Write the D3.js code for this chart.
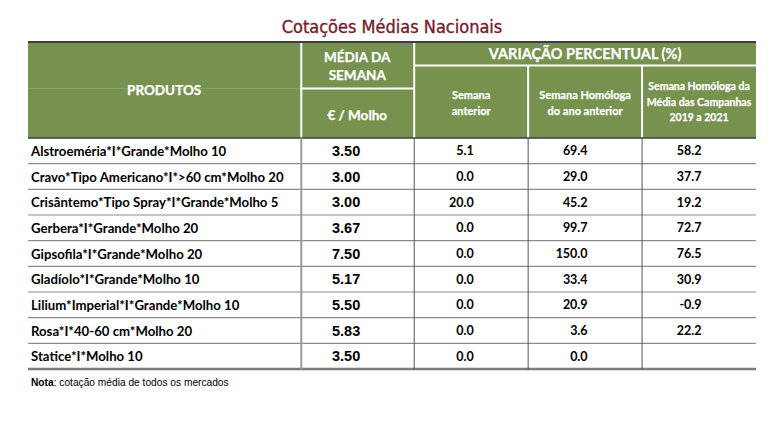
<!DOCTYPE html>
<html><head><meta charset="utf-8">
<script src="https://cdn.jsdelivr.net/npm/d3@7"></script>
<style>
html,body{margin:0;padding:0;background:#fff;}
svg{display:block;}
</style></head>
<body>
<svg id="chart" width="782" height="430"></svg>
<script>
const title = "Cotações Médias Nacionais";
const products = [
  "Alstroeméria*I*Grande*Molho 10",
  "Cravo*Tipo Americano*I*>60 cm*Molho 20",
  "Crisântemo*Tipo Spray*I*Grande*Molho 5",
  "Gerbera*I*Grande*Molho 20",
  "Gipsofila*I*Grande*Molho 20",
  "Gladíolo*I*Grande*Molho 10",
  "Lilium*Imperial*I*Grande*Molho 10",
  "Rosa*I*40-60 cm*Molho 20",
  "Statice*I*Molho 10"
];
const mediaSemana = ["3.50","3.00","3.00","3.67","7.50","5.17","5.50","5.83","3.50"];
const semanaAnterior = ["5.1","0.0","20.0","0.0","0.0","0.0","0.0","0.0","0.0"];
const homologaAnoAnterior = ["69.4","29.0","45.2","99.7","150.0","33.4","20.9","3.6","0.0"];
const homologaCampanhas = ["58.2","37.7","19.2","72.7","76.5","30.9","-0.9","22.2",""];
const columnKeys = ["produto","media","anterior","homologa","campanhas"];
const columnUnits = [2.39, 1, 1, 1, 1];
const headerProdutos = "PRODUTOS";
const headerMedia = ["MÉDIA DA","SEMANA"];
const headerUnit = "€ / Molho";
const headerVariacao = "VARIAÇÃO PERCENTUAL (%)";
const subHeaders = [["Semana","anterior"],["Semana Homóloga","do ano anterior"],["Semana Homóloga da","Média das Campanhas","2019 a 2021"]];
const nota = ["Nota", ": cotação média de todos os mercados"];

const svg = d3.select("#chart");
const green = "#76924e";
const tLeft = 28, tRight = 756, tTop = 42, headBottom = 138, tBottom = 369;

const cum = [0]; columnUnits.forEach(u => cum.push(cum[cum.length-1] + u));
const x = d3.scaleLinear().domain([0, cum[cum.length-1]]).range([tLeft, tRight]);
const colL = i => x(cum[i]), colR = i => x(cum[i+1]), colC = i => (colL(i)+colR(i))/2;
const y = d3.scaleBand().domain(products).range([headBottom, tBottom]);
const hy = d3.scaleLinear().domain([0,1]).range([tTop, headBottom]);

// Title
svg.append("text").attr("x", 392).attr("y", 33).attr("text-anchor","middle")
  .attr("font-family","'DejaVu Sans Condensed','DejaVu Sans'").attr("font-stretch","condensed")
  .attr("font-size", 18).attr("fill","#75202f").attr("stroke","#75202f").attr("stroke-width",0.35).text(title);

// Header background
svg.append("rect").attr("x", tLeft).attr("y", tTop).attr("width", tRight-tLeft).attr("height", headBottom-tTop).attr("fill", green);
svg.append("line").attr("x1", tLeft).attr("x2", colR(0)).attr("y1", hy(0.485)).attr("y2", hy(0.485)).attr("stroke","#8aa466").attr("stroke-width",1);
const W = "#ffffff";
svg.append("line").attr("x1", colR(0)+1).attr("x2", colR(0)+1).attr("y1", tTop).attr("y2", headBottom).attr("stroke", W).attr("stroke-width",2);
svg.append("line").attr("x1", colR(1)).attr("x2", colR(1)).attr("y1", tTop).attr("y2", headBottom).attr("stroke", W).attr("stroke-width",2);
svg.append("line").attr("x1", colL(1)).attr("x2", colR(1)).attr("y1", hy(0.485)).attr("y2", hy(0.485)).attr("stroke", W).attr("stroke-width",2);
svg.append("line").attr("x1", colL(2)).attr("x2", tRight).attr("y1", hy(0.245)).attr("y2", hy(0.245)).attr("stroke", W).attr("stroke-width",2);
[3,4].forEach(i => svg.append("line").attr("x1", colL(i)).attr("x2", colL(i)).attr("y1", hy(0.245)).attr("y2", headBottom).attr("stroke", W).attr("stroke-width",2));

// Header texts
const hf = "Lato, 'Open Sans', sans-serif";
const ht = (tx, xx, yy, size) => svg.append("text").attr("x", xx).attr("y", yy).attr("text-anchor","middle")
  .attr("dominant-baseline","central").attr("font-family", hf).attr("font-weight", 700)
  .attr("font-size", size).attr("fill", "#ffffff").attr("stroke","#ffffff").attr("stroke-width",0.25).text(tx);
ht(headerProdutos, colC(0), 90, 13.5);
ht(headerMedia[0], colC(1), 57, 13.5);
ht(headerMedia[1], colC(1), 75, 13.5);
ht(headerUnit, colC(1), 115, 13.5);
ht(headerVariacao, (colL(2)+tRight)/2, 53.5, 14.5);
ht(subHeaders[0][0], colC(2), 94, 11);
ht(subHeaders[0][1], colC(2), 110, 11);
ht(subHeaders[1][0], colC(3), 94, 11);
ht(subHeaders[1][1], colC(3), 110, 11);
ht(subHeaders[2][0], colC(4), 86, 10.5);
ht(subHeaders[2][1], colC(4), 101.5, 10.5);
ht(subHeaders[2][2], colC(4), 116.5, 10.5);

svg.append("line").attr("x1", tLeft).attr("x2", tRight).attr("y1", tTop).attr("y2", tTop).attr("stroke","#3e3e3e").attr("stroke-width",2);
svg.append("line").attr("x1", tLeft).attr("x2", tRight).attr("y1", headBottom).attr("y2", headBottom).attr("stroke","#3e3e3e").attr("stroke-width",1.5);

const rows = svg.append("g");
rows.selectAll("line.row").data(products.slice(0, -1)).join("line")
  .attr("x1", tLeft).attr("x2", tRight)
  .attr("y1", d => y(d) + y.bandwidth()).attr("y2", d => y(d) + y.bandwidth())
  .attr("stroke", "#8c8c8c").attr("stroke-width", 1.2);
svg.append("line").attr("x1", tLeft).attr("x2", tRight).attr("y1", tBottom).attr("y2", tBottom).attr("stroke","#7a7a7a").attr("stroke-width",2.5);

svg.append("line").attr("x1", colR(0)+1).attr("x2", colR(0)+1).attr("y1", headBottom).attr("y2", tBottom).attr("stroke","#9a9a9a").attr("stroke-width",2);
[2,3,4].forEach(i => svg.append("line").attr("x1", colL(i)).attr("x2", colL(i)).attr("y1", headBottom).attr("y2", tBottom).attr("stroke","#555").attr("stroke-width",1));

const cy = d => y(d) + y.bandwidth()/2;
rows.append("g").selectAll("text").data(products).join("text")
  .attr("x", tLeft + 3).attr("y", cy).attr("dominant-baseline","central")
  .attr("font-family", hf).attr("font-weight", 700).attr("font-size", 13.2).attr("fill","#000").text(d => d);
rows.append("g").selectAll("text").data(products).join("text")
  .attr("x", colC(1) + 3).attr("y", cy).attr("dominant-baseline","central").attr("text-anchor","end")
  .attr("font-family","'Liberation Sans', Arial, sans-serif").attr("font-weight",700).attr("font-size",14.5).attr("fill","#000")
  .text((d,i) => mediaSemana[i]);
[[semanaAnterior,2],[homologaAnoAnterior,3],[homologaCampanhas,4]].forEach(([arr, c]) => {
  rows.append("g").selectAll("text").data(products).join("text")
    .attr("x", colC(c) + 2.5).attr("y", cy).attr("dominant-baseline","central").attr("text-anchor","end")
    .attr("font-family", hf).attr("font-weight",700).attr("font-size",12.5).attr("fill","#000")
    .text((d,i) => arr[i]);
});

const nt = svg.append("text").attr("x", 31).attr("y", 386).attr("font-family","'Liberation Sans', Arial, sans-serif").attr("font-size", 10.2).attr("fill","#000");
nt.append("tspan").attr("font-weight",700).text(nota[0]);
nt.append("tspan").text(nota[1]);
</script>
</body></html>
